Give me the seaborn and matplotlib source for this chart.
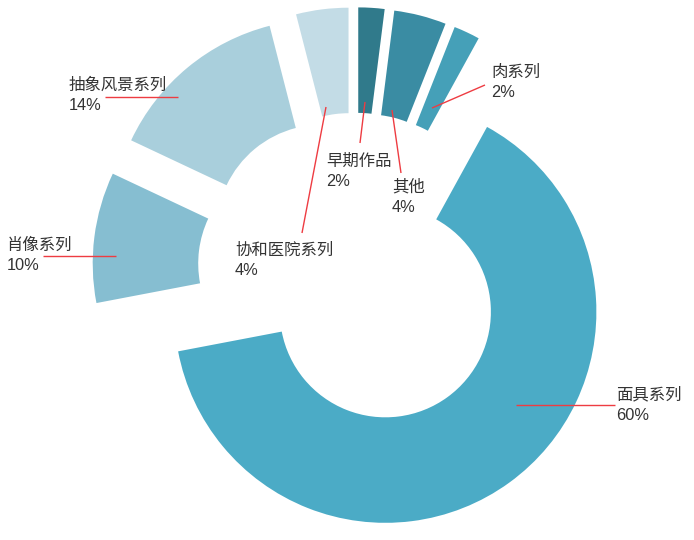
import matplotlib
matplotlib.use("Agg")
import matplotlib.pyplot as plt
import seaborn as sns

# wedges clockwise from 12 o'clock
names = ["早期作品", "其他", "肉系列", "面具系列", "肖像系列", "抽象风景系列", "协和医院系列"]
pct_text = ["2%", "4%", "2%", "60%", "10%", "14%", "4%"]
# wedge sizes as measured on the picture (面具 wedge spans ~64% of the circle)
sizes = [2, 4, 2, 64, 10, 14, 4]
colors = ["#307a8b", "#3a8ca3", "#45a0b8", "#4babc6", "#86bed1", "#a9cfdc", "#c3dce6"]

sns.set_theme(style="white")
plt.rcParams["font.family"] = ["Liberation Sans", "Noto Sans CJK SC", "DejaVu Sans"]

W, H = 694, 540
CX, CY, R = 355, 270, 211  # pie centre / radius in pixels


def px(x, y):
    return ((x - CX) / R, (CY - y) / R)


fig = plt.figure(figsize=(W / 100, H / 100), dpi=100)
ax = fig.add_axes([0, 0, 1, 1])

ax.pie(sizes, colors=colors, startangle=90, counterclock=False,
       explode=[0.245] * len(sizes), radius=1,
       wedgeprops=dict(width=0.5, linewidth=0))

# label lines: (start of line, end of line, text left/top-line y) in pixels
layout = [
    ((365, 102), (360, 143), (326, 161)),
    ((392, 110), (401, 173), (392, 187)),
    ((432, 108), (485, 85), (491, 72)),
    ((516, 405), (615, 405), (616, 395)),
    ((116, 256), (43, 256), (7, 245)),
    ((178, 97), (105, 97), (69, 85)),
    ((326, 107), (302, 233), (235, 250)),
]

for name, pct, (p0, p1, t) in zip(names, pct_text, layout):
    x0, y0 = px(*p0)
    x1, y1 = px(*p1)
    ax.plot([x0, x1], [y0, y1], color="#ee3c42", lw=1, solid_capstyle="butt")
    tx, ty = px(*t)
    ax.text(tx, ty, name, ha="left", va="center", fontsize=11.8, color="#333333")
    tx2, ty2 = px(t[0], t[1] + 21)
    ax.text(tx2, ty2, pct, ha="left", va="center", fontsize=11.8, color="#333333")

ax.set_xlim(-CX / R, (W - CX) / R)
ax.set_ylim(-(H - CY) / R, CY / R)
ax.axis("off")

plt.savefig("out.png", dpi=100)
